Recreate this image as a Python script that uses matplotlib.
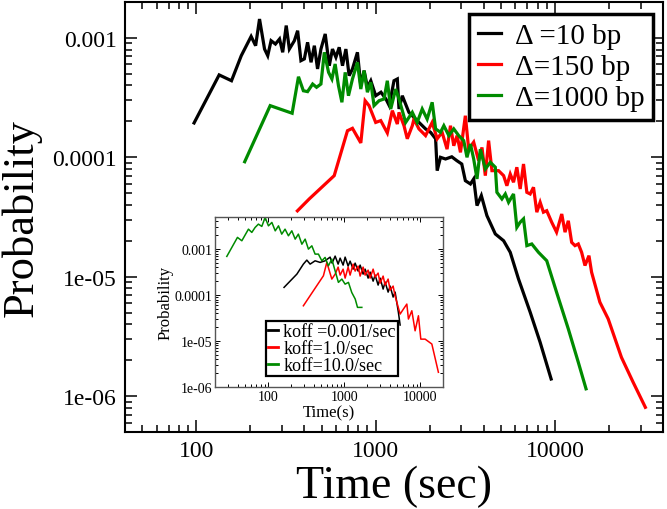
import numpy as np
import matplotlib
matplotlib.use("Agg")
import matplotlib.pyplot as plt
from matplotlib.ticker import FixedLocator, FixedFormatter, LogLocator, NullFormatter

plt.rcParams['font.family'] = ['Liberation Serif', 'DejaVu Serif']

# ---------------- main panel data ----------------
labels_main = ['\u0394 =10 bp', '\u0394=150 bp', '\u0394=1000 bp']
colors = ['#000000', '#ff0000', '#008b00']

d10_x = [97.1, 134, 157, 178, 202, 214, 225, 240, 250, 261, 276, 291, 303, 317, 330, 352, 367, 383, 400, 417, 436, 455, 474, 495, 523, 551, 574, 600, 626, 653, 682, 711, 742, 791, 826, 862, 899, 939, 1000, 1070, 1140, 1190, 1265, 1320, 1349, 1407, 1532, 1670, 1897, 2023, 2158, 2202, 2298, 2451, 2656, 2833, 3019, 3162, 3375, 3519, 3672, 3882, 4169, 4645, 5168, 5627, 6256, 7268, 8260, 9512]
d10_y = [1.94e-4, 4.90e-4, 4.38e-4, 7.10e-4, 1.03e-3, 8.61e-4, 1.44e-3, 8.07e-4, 7.10e-4, 9.48e-4, 8.89e-4, 9.80e-4, 7.58e-4, 1.27e-3, 8.07e-4, 9.48e-4, 1.15e-3, 6.45e-4, 6.67e-4, 9.19e-4, 6.25e-4, 8.61e-4, 5.50e-4, 8.07e-4, 1.08e-3, 5.85e-4, 8.07e-4, 6.89e-4, 8.35e-4, 5.85e-4, 8.07e-4, 4.83e-4, 5.50e-4, 7.58e-4, 3.98e-4, 5.32e-4, 3.86e-4, 4.38e-4, 3.28e-4, 3.51e-4, 3.08e-4, 2.71e-4, 4.38e-4, 4.53e-4, 2.54e-4, 3.28e-4, 2.38e-4, 2.09e-4, 1.73e-4, 1.62e-4, 1.43e-4, 7.73e-5, 1.00e-4, 9.68e-5, 1.01e-4, 9.38e-5, 8.79e-5, 6.37e-5, 5.98e-5, 6.59e-5, 3.94e-5, 4.78e-5, 3.25e-5, 2.28e-5, 2.00e-5, 1.60e-5, 9.57e-6, 5.04e-6, 2.82e-6, 1.39e-6]

d150_x = [366, 426, 587, 696, 742, 826, 873, 918, 1000, 1067, 1161, 1238, 1320, 1349, 1438, 1500, 1600, 1634, 1742, 1897, 2065, 2202, 2346, 2500, 2612, 2725, 2844, 2970, 3162, 3300, 3519, 3750, 3914, 4086, 4262, 4448, 4842, 5168, 5389, 5627, 5869, 6124, 6393, 6672, 6964, 7268, 7585, 7915, 8260, 8616, 8990, 9581, 10200, 10900, 11370, 11860, 12380, 12920, 13480, 14070, 14690, 15460, 15990, 17790, 19790, 23460, 27230, 31890]
d150_y = [3.56e-5, 4.48e-5, 7.02e-5, 1.67e-4, 1.75e-4, 1.32e-4, 2.98e-4, 2.71e-4, 1.96e-4, 2.03e-4, 1.60e-4, 2.46e-4, 1.90e-4, 2.38e-4, 1.84e-4, 1.43e-4, 1.84e-4, 2.09e-4, 1.73e-4, 1.52e-4, 1.96e-4, 1.43e-4, 1.62e-4, 1.17e-4, 1.84e-4, 1.25e-4, 1.52e-4, 1.10e-4, 2.23e-4, 1.17e-4, 1.34e-4, 9.38e-5, 1.21e-4, 7.02e-5, 1.38e-4, 7.73e-5, 7.73e-5, 7.02e-5, 5.78e-5, 7.24e-5, 6.18e-5, 8.26e-5, 5.43e-5, 8.79e-5, 5.09e-5, 4.93e-5, 5.61e-5, 3.47e-5, 4.20e-5, 3.47e-5, 3.57e-5, 2.86e-5, 2.36e-5, 3.35e-5, 2.36e-5, 2.94e-5, 1.94e-5, 1.82e-5, 1.88e-5, 1.60e-5, 1.24e-5, 1.50e-5, 1.09e-5, 6.11e-6, 4.43e-6, 2.11e-6, 1.31e-6, 8.05e-7]

d1000_x = [186, 258, 342, 371, 395, 417, 445, 468, 495, 517, 546, 570, 594, 620, 648, 676, 705, 742, 791, 826, 861, 899, 939, 979, 1044, 1113, 1161, 1213, 1292, 1349, 1469, 1600, 1703, 1817, 1936, 2065, 2158, 2298, 2399, 2558, 2725, 2904, 3096, 3229, 3375, 3519, 3672, 3834, 4086, 4357, 4645, 4741, 5055, 5281, 5508, 5869, 6124, 6393, 6672, 6964, 7420, 8085, 8990, 10200, 11860, 13480, 14890]
d1000_y = [9.18e-5, 2.71e-4, 2.34e-4, 4.73e-4, 3.61e-4, 3.55e-4, 4.11e-4, 3.86e-4, 4.11e-4, 7.58e-4, 5.15e-4, 4.53e-4, 6.05e-4, 3.98e-4, 2.89e-4, 5.15e-4, 3.28e-4, 4.53e-4, 6.25e-4, 3.73e-4, 5.32e-4, 3.51e-4, 4.25e-4, 2.71e-4, 2.98e-4, 3.08e-4, 4.38e-4, 2.54e-4, 3.73e-4, 3.08e-4, 1.96e-4, 2.38e-4, 1.96e-4, 2.54e-4, 2.09e-4, 2.89e-4, 1.73e-4, 1.62e-4, 1.84e-4, 1.52e-4, 1.73e-4, 1.52e-4, 1.38e-4, 1.00e-4, 1.29e-4, 9.68e-5, 6.59e-5, 1.17e-4, 7.98e-5, 9.08e-5, 8.26e-5, 5.09e-5, 4.48e-5, 4.93e-5, 4.20e-5, 4.93e-5, 2.59e-5, 2.86e-5, 3.05e-5, 1.82e-5, 1.88e-5, 1.60e-5, 1.36e-5, 7.41e-6, 3.65e-6, 1.92e-6, 1.15e-6]

# ---------------- inset data ----------------
labels_inset = ['koff =0.001/sec', 'koff=1.0/sec', 'koff=10.0/sec']

k0001_x = [162, 239, 291, 323, 357, 415, 483, 562, 654, 695, 762, 834, 886, 970, 1031, 1129, 1199, 1313, 1396, 1528, 1624, 1778, 1890, 2069, 2198, 2408, 2558, 2801, 2977, 3260, 3463, 3793, 4030, 4413, 4689, 5178, 5455]
k0001_y = [1.47e-4, 2.86e-4, 4.72e-4, 5.77e-4, 4.72e-4, 5.57e-4, 5.14e-4, 5.57e-4, 6.70e-4, 4.96e-4, 7.05e-4, 4.72e-4, 6.37e-4, 4.49e-4, 6.70e-4, 4.27e-4, 5.48e-4, 3.67e-4, 4.96e-4, 3.33e-4, 4.49e-4, 2.86e-4, 3.67e-4, 2.34e-4, 3.16e-4, 2.01e-4, 2.72e-4, 1.65e-4, 2.34e-4, 1.35e-4, 1.92e-4, 1.16e-4, 1.57e-4, 9.05e-5, 1.16e-4, 4.21e-5, 2.23e-5]

k1_x = [291, 394, 534, 592, 689, 762, 834, 886, 970, 1031, 1129, 1199, 1313, 1396, 1528, 1624, 1778, 1890, 2069, 2198, 2408, 2558, 2801, 2977, 3260, 3463, 3793, 4030, 4413, 4689, 5455, 6026, 6683, 7017, 7780, 8590, 9500, 10210, 11640, 14260, 17400]
k1_y = [5.85e-5, 1.24e-4, 2.63e-4, 5.14e-4, 2.23e-4, 2.86e-4, 4.06e-4, 2.72e-4, 3.67e-4, 2.34e-4, 4.06e-4, 2.72e-4, 4.72e-4, 3.33e-4, 4.27e-4, 2.59e-4, 4.06e-4, 2.72e-4, 3.49e-4, 2.34e-4, 3.67e-4, 2.46e-4, 3.01e-4, 1.82e-4, 2.59e-4, 1.65e-4, 2.23e-4, 1.28e-4, 1.57e-4, 9.51e-5, 3.86e-5, 4.96e-5, 6.37e-5, 3.01e-5, 4.56e-5, 1.67e-5, 3.55e-5, 1.10e-5, 1.10e-5, 8.61e-6, 2.09e-6]

k10_x = [28.6, 39.5, 45.1, 55.1, 61.0, 67.4, 74.5, 82.6, 91.3, 101, 112, 124, 137, 151, 167, 185, 205, 227, 250, 278, 307, 339, 376, 415, 459, 509, 562, 621, 689, 761, 841, 933, 1030, 1140, 1260, 1400, 1500, 1710]
k10_y = [6.94e-4, 1.80e-3, 1.52e-3, 2.72e-3, 2.31e-3, 2.96e-3, 3.50e-3, 3.12e-3, 4.89e-3, 3.21e-3, 3.81e-3, 2.50e-3, 3.21e-3, 2.12e-3, 2.72e-3, 1.95e-3, 2.50e-3, 1.65e-3, 2.12e-3, 1.28e-3, 1.65e-3, 1.00e-3, 1.18e-3, 7.79e-4, 7.79e-4, 5.57e-4, 6.60e-4, 4.33e-4, 6.06e-4, 3.37e-4, 1.89e-4, 2.23e-4, 1.73e-4, 1.89e-4, 1.14e-4, 8.19e-5, 5.40e-5, 5.40e-5]

ytick_vals = [1e-3, 1e-4, 1e-5, 1e-6]
ytick_labels = ['0.001', '0.0001', '1e-05', '1e-06']
xtick_vals = [100, 1000, 10000]
xtick_labels = ['100', '1000', '10000']

W, H = 667, 510
fig = plt.figure(figsize=(W / 100, H / 100), dpi=100)

def px_axes(l, t, r, b):
    return [l / W, (H - b) / H, (r - l) / W, (b - t) / H]

def style_log(ax, fs, maj, mino, lw, pad):
    ax.set_xscale('log')
    ax.set_yscale('log')
    ax.xaxis.set_major_locator(FixedLocator(xtick_vals))
    ax.xaxis.set_major_formatter(FixedFormatter(xtick_labels))
    ax.yaxis.set_major_locator(FixedLocator(ytick_vals))
    ax.yaxis.set_major_formatter(FixedFormatter(ytick_labels))
    ax.xaxis.set_minor_locator(LogLocator(base=10, subs=np.arange(2, 10), numticks=20))
    ax.yaxis.set_minor_locator(LogLocator(base=10, subs=np.arange(2, 10), numticks=20))
    ax.xaxis.set_minor_formatter(NullFormatter())
    ax.yaxis.set_minor_formatter(NullFormatter())
    ax.tick_params(which='both', direction='in', top=True, right=True, width=lw)
    ax.tick_params(which='major', length=maj, labelsize=fs, pad=pad)
    ax.tick_params(which='minor', length=mino)

# ---------------- main axes ----------------
ax = fig.add_axes(px_axes(125, 3, 663, 433))
for xs, ys, c, lab in [(d10_x, d10_y, colors[0], labels_main[0]),
                       (d150_x, d150_y, colors[1], labels_main[1]),
                       (d1000_x, d1000_y, colors[2], labels_main[2])]:
    ax.plot(xs, ys, color=c, lw=2.3, label=lab, solid_joinstyle='miter')
style_log(ax, 17, 8.5, 5, 1.1, 6)
ax.set_xlim(40, 40000)
ax.set_ylim(5e-7, 2e-3)
for s in ax.spines.values():
    s.set_linewidth(1.5)
ax.set_xlabel('Time (sec)', fontsize=33, va='center')
ax.xaxis.set_label_coords(0.5, -0.126)
ax.set_ylabel('Probability', fontsize=32, va='center')
ax.yaxis.set_label_coords(-0.192, 0.5)
leg = ax.legend(loc='upper right', bbox_to_anchor=(653 / W, (H - 15) / H),
                bbox_transform=fig.transFigure, borderaxespad=0, fontsize=21,
                frameon=True, fancybox=False, edgecolor='black', framealpha=1,
                handlelength=0.8, handletextpad=0.45, borderpad=0.3, labelspacing=0.15)
leg.get_frame().set_linewidth(2.5)

# ---------------- inset axes ----------------
axi = fig.add_axes(px_axes(215, 218, 443, 388))
axi.set_facecolor('white')
for xs, ys, c, lab in [(k0001_x, k0001_y, colors[0], labels_inset[0]),
                       (k1_x, k1_y, colors[1], labels_inset[1]),
                       (k10_x, k10_y, colors[2], labels_inset[2])]:
    axi.plot(xs, ys, color=c, lw=1.1, label=lab)
style_log(axi, 10, 3.5, 2, 0.7, 2)
axi.set_xlim(20, 20000)
axi.set_ylim(1e-6, 5e-3)
for s in axi.spines.values():
    s.set_linewidth(1.0)
    s.set_color('#555555')
axi.set_xlabel('Time(s)', fontsize=12, va='center')
axi.xaxis.set_label_coords(0.5, -0.15)
axi.set_ylabel('Probability', fontsize=12, va='center')
axi.yaxis.set_label_coords(-0.215, 0.5)
legi = axi.legend(loc='lower right', bbox_to_anchor=(398 / W, (H - 377) / H),
                  bbox_transform=fig.transFigure, borderaxespad=0, fontsize=13,
                  frameon=True, fancybox=False, edgecolor='black', framealpha=1,
                  handlelength=0.55, handletextpad=0.3, borderpad=0.12, labelspacing=0.0)
legi.get_frame().set_linewidth(1.6)
for ln in legi.get_lines():
    ln.set_linewidth(2.0)

fig.savefig('out.png', dpi=100)
